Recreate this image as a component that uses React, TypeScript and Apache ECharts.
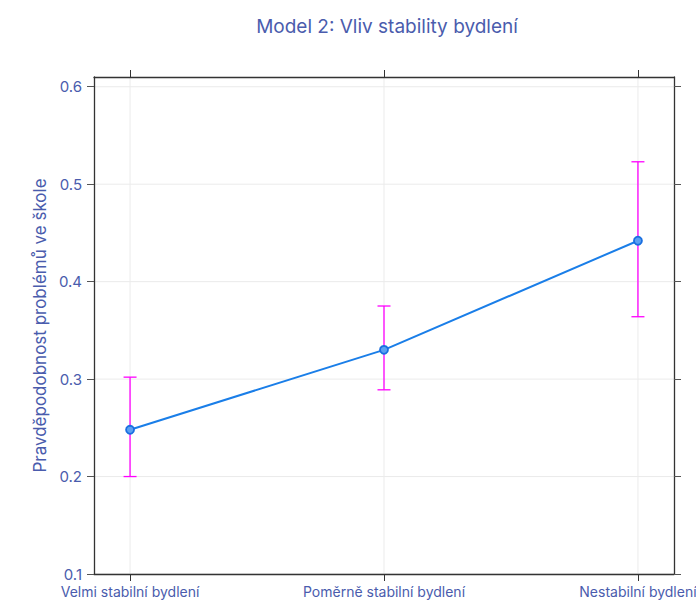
import React, { useEffect, useRef } from "react";
import * as echarts from "echarts";

const categories = ["Velmi stabilní bydlení", "Poměrně stabilní bydlení", "Nestabilní bydlení"];
const probability = [0.248, 0.33, 0.442];
const lowerCI = [0.2, 0.289, 0.364];
const upperCI = [0.302, 0.375, 0.523];
const yTicks = [0.1, 0.2, 0.3, 0.4, 0.5, 0.6];

const TEXT = "#4a5cad";
const FONT = "Inter";

export default function App() {
  const ref = useRef<HTMLDivElement>(null);
  useEffect(() => {
    if (!ref.current) return;
    const chart = echarts.init(ref.current, undefined, { renderer: "svg" });
    const idx = categories.map((_, i) => i);
    const xCommon = {
      type: "value" as const,
      min: -0.142,
      max: 2.142,
      axisLine: { show: true, onZero: false, lineStyle: { color: "#333", width: 1.3 } },
      axisTick: { show: true, customValues: idx, length: 7, lineStyle: { color: "#333" } },
      splitLine: { show: false },
    };
    const yCommon = {
      type: "value" as const,
      min: 0.1,
      max: 0.61,
      axisLine: { show: true, onZero: false, lineStyle: { color: "#333", width: 1.3 } },
      axisTick: { show: true, customValues: yTicks, length: 7, lineStyle: { color: "#555" } },
      splitLine: { show: false },
    };
    chart.setOption({
      animation: false,
      textStyle: { fontFamily: FONT },
      title: {
        text: "Model 2: Vliv stability bydlení",
        left: 382,
        textAlign: "center",
        top: 12,
        textStyle: { color: TEXT, fontSize: 19, fontWeight: "normal", fontFamily: FONT },
      },
      grid: { left: 94, right: 22, top: 77, bottom: 26, outerBoundsMode: "none", containLabel: false },
      xAxis: [
        {
          ...xCommon,
          position: "bottom",
          axisLabel: {
            customValues: idx,
            formatter: (v: number) => categories[Math.round(v)] ?? "",
            color: TEXT,
            fontSize: 14,
            margin: 10,
            fontFamily: FONT,
          },
        },
        {
          ...xCommon,
          position: "top",
          axisLabel: { show: false },
        },
      ],
      yAxis: [
        {
          ...yCommon,
          position: "left",
          name: "Pravděpodobnost problémů ve škole",
          nameLocation: "middle",
          nameGap: 45,
          nameTextStyle: { color: TEXT, fontSize: 17, fontFamily: FONT },
          axisLabel: {
            customValues: yTicks,
            formatter: (v: number) => v.toFixed(1),
            color: TEXT,
            fontSize: 15,
            margin: 12,
            fontFamily: FONT,
          },
        },
        {
          ...yCommon,
          position: "right",
          axisLabel: { show: false },
        },
      ],
      series: [
        {
          type: "custom",
          name: "grid",
          silent: true,
          z: 0,
          data: [0],
          renderItem: (params: any, api: any) => {
            const children: any[] = [];
            const cs = params.coordSys;
            yTicks.forEach((t) => {
              const p = api.coord([0, t]);
              children.push({
                type: "line",
                shape: { x1: cs.x, y1: p[1], x2: cs.x + cs.width, y2: p[1] },
                style: { stroke: "#ebebeb", lineWidth: 1 },
              });
            });
            idx.forEach((i) => {
              const p = api.coord([i, 0.1]);
              children.push({
                type: "line",
                shape: { x1: p[0], y1: cs.y, x2: p[0], y2: cs.y + cs.height },
                style: { stroke: "#ebebeb", lineWidth: 1 },
              });
            });
            return { type: "group", children };
          },
        },
        {
          type: "custom",
          name: "ci",
          z: 2,
          data: idx.map((i) => [i, lowerCI[i], upperCI[i]]),
          encode: { x: 0, y: [1, 2] },
          renderItem: (params: any, api: any) => {
            const x = api.value(0);
            const lo = api.coord([x, api.value(1)]);
            const hi = api.coord([x, api.value(2)]);
            const hw = 6.5;
            const style = { stroke: "#ff00ff", lineWidth: 1.3, fill: "none" };
            return {
              type: "group",
              children: [
                { type: "line", shape: { x1: lo[0], y1: lo[1], x2: hi[0], y2: hi[1] }, style },
                { type: "line", shape: { x1: lo[0] - hw, y1: lo[1], x2: lo[0] + hw, y2: lo[1] }, style },
                { type: "line", shape: { x1: hi[0] - hw, y1: hi[1], x2: hi[0] + hw, y2: hi[1] }, style },
              ],
            };
          },
        },
        {
          type: "line",
          z: 3,
          data: idx.map((i) => [i, probability[i]]),
          lineStyle: { color: "#1a7ee8", width: 2 },
          symbol: "circle",
          symbolSize: 8,
          itemStyle: { color: "#5aa0f2", borderColor: "#1a6fe0", borderWidth: 1.8 },
        },
      ],
    });
    return () => chart.dispose();
  }, []);
  return (
    <div
      ref={ref}
      style={{ position: "fixed", left: 0, top: 0, width: 696, height: 600, background: "#fff" }}
    />
  );
}
